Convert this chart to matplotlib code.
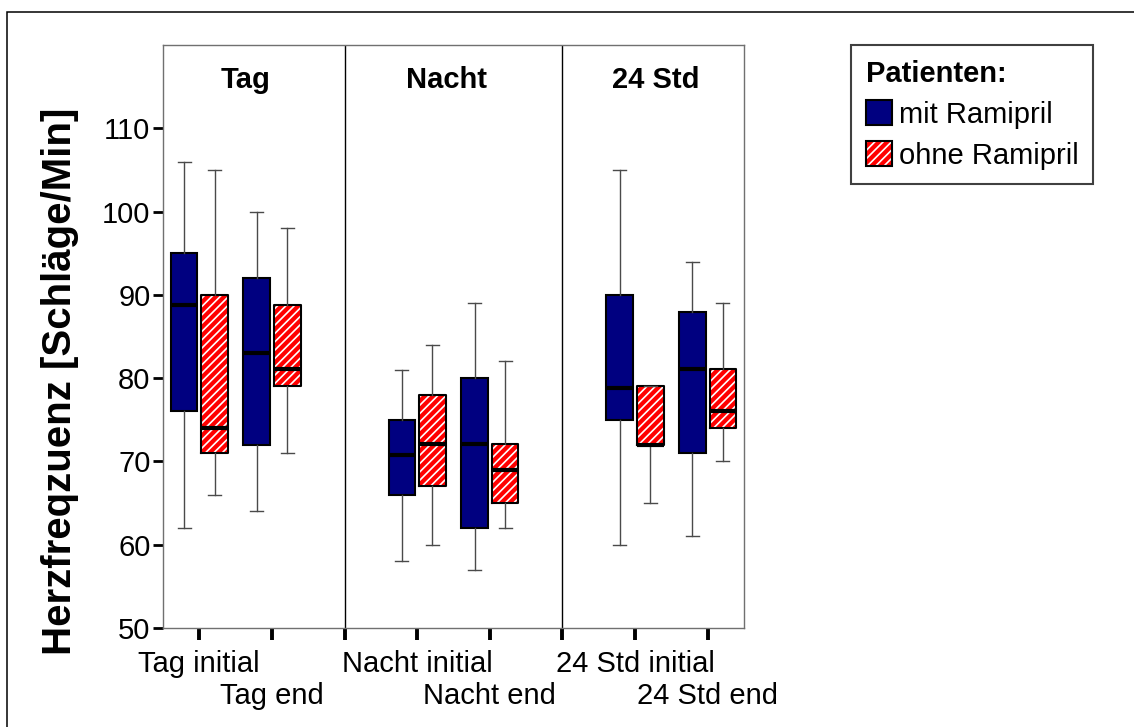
import numpy as np
import matplotlib.pyplot as plt
from matplotlib.patches import Patch, Rectangle

plt.rcParams['font.family'] = ['Liberation Sans', 'DejaVu Sans']
plt.rcParams['hatch.linewidth'] = 1.2

# Herzfrequenz je Messperiode (Boxplot-Kennwerte)
categories = ['Tag initial', 'Tag end', 'Nacht initial', 'Nacht end', '24 Std initial', '24 Std end']
periods = ['Tag', 'Nacht', '24 Std']

# mit Ramipril
mit_whislo = [62, 64, 58, 57, 60, 61]
mit_q1 = [76, 72, 66, 62, 75, 71]
mit_med = [88.8, 83, 70.8, 72.1, 78.8, 81.1]
mit_q3 = [95, 92, 75, 80, 90, 88]
mit_whishi = [106, 100, 81, 89, 105, 94]

# ohne Ramipril
ohne_whislo = [66, 71, 60, 62, 65, 70]
ohne_q1 = [71, 79, 67, 65, 72, 74]
ohne_med = [74, 81.1, 72.1, 69, 72, 76]
ohne_q3 = [90, 88.8, 78, 72.1, 79, 81.1]
ohne_whishi = [105, 98, 84, 82, 79, 89]


def make_stats(whislo, q1, med, q3, whishi):
    return [dict(whislo=a, q1=b, med=c, q3=d, whishi=e, fliers=[])
            for a, b, c, d, e in zip(whislo, q1, med, q3, whishi)]


# two categories per period, one empty slot between periods
pos = np.array([1, 2, 4, 5, 7, 8])
offset = 0.21
width = 0.37
capw = 0.18
hatch = '////'

fig = plt.figure(figsize=(11.34, 7.27), dpi=100)
ax = fig.add_axes([163 / 1134, 1 - 628 / 727, 581 / 1134, 583 / 727])

line_kw = dict(
    whiskerprops=dict(color='#4a4a4a', lw=1.0),
    capprops=dict(color='#4a4a4a', lw=1.0),
    medianprops=dict(color='black', lw=3.0, solid_capstyle='butt'),
)

# mit Ramipril: navy boxes
ax.bxp(make_stats(mit_whislo, mit_q1, mit_med, mit_q3, mit_whishi),
       positions=pos - offset, widths=width, capwidths=capw, patch_artist=True,
       boxprops=dict(facecolor='#000080', edgecolor='black', lw=1.5),
       manage_ticks=False, showfliers=False, **line_kw)

# ohne Ramipril: red boxes with white hatching, outline drawn on top
ohne_stats = make_stats(ohne_whislo, ohne_q1, ohne_med, ohne_q3, ohne_whishi)
ax.bxp(ohne_stats, positions=pos + offset, widths=width, capwidths=capw, patch_artist=True,
       boxprops=dict(facecolor='#ff0000', edgecolor='white', lw=0, hatch=hatch),
       showcaps=False, manage_ticks=False, showfliers=False,
       whiskerprops=dict(lw=0), medianprops=dict(lw=0))
ax.bxp(ohne_stats, positions=pos + offset, widths=width, capwidths=capw,
       boxprops=dict(color='black', lw=1.5),
       manage_ticks=False, showfliers=False, **line_kw)

# period separators and titles
for x in [3, 6]:
    ax.axvline(x, color='black', lw=1.0)
for x, name in zip([1.63, 4.41, 7.29], periods):
    ax.text(x, 114.8, name, ha='center', va='baseline', fontsize=21, fontweight='bold')

ax.set_xlim(0.5, 8.5)
ax.set_ylim(50, 120)
ax.set_yticks(np.arange(50, 111, 10))
ax.tick_params(axis='y', labelsize=21, length=7, width=2, pad=2, direction='out')

# ticks on every slot, labels in two staggered rows
ax.set_xticks(np.arange(1, 9))
ax.set_xticklabels([])
ax.tick_params(axis='x', length=8.5, width=2.8, direction='out')
for k, (x, name) in enumerate(zip(pos, categories)):
    y = -0.0755 if k % 2 == 0 else -0.130
    ax.text(x, y, name, transform=ax.get_xaxis_transform(), ha='center', va='baseline',
            fontsize=21)

for s in ax.spines.values():
    s.set_color('#707070')
    s.set_linewidth(1.0)

fig.text(60 / 1134, 1 - 381 / 727, 'Herzfreqzuenz [Schläge/Min]', rotation=90,
         ha='center', va='center', fontsize=29, fontweight='bold')

# legend
h_mit = Patch(facecolor='#000080', edgecolor='black', lw=1.5)
h_ohne = (Patch(facecolor='#ff0000', edgecolor='white', lw=0, hatch=hatch),
          Patch(facecolor='none', edgecolor='black', lw=1.5))
leg = fig.legend([h_mit, h_ohne], ['mit Ramipril', 'ohne Ramipril'],
                 title='Patienten:', loc='upper left',
                 bbox_to_anchor=(851 / 1134, 1 - 45 / 727), bbox_transform=fig.transFigure,
                 frameon=True, fancybox=False, edgecolor='#404040', framealpha=1,
                 prop={'size': 21}, title_fontproperties={'size': 21, 'weight': 'bold'},
                 alignment='left', borderaxespad=0, borderpad=0.5, labelspacing=0.44,
                 handlelength=0.9, handleheight=0.9, handletextpad=0.25)
leg.get_frame().set_linewidth(1.5)

# outer frame
fig.patches.append(Rectangle((7 / 1134, -0.1), 1.2, 1.1 - 12 / 727, transform=fig.transFigure,
                             fill=False, edgecolor='black', lw=1.1))

fig.savefig('out.png', dpi=100)
